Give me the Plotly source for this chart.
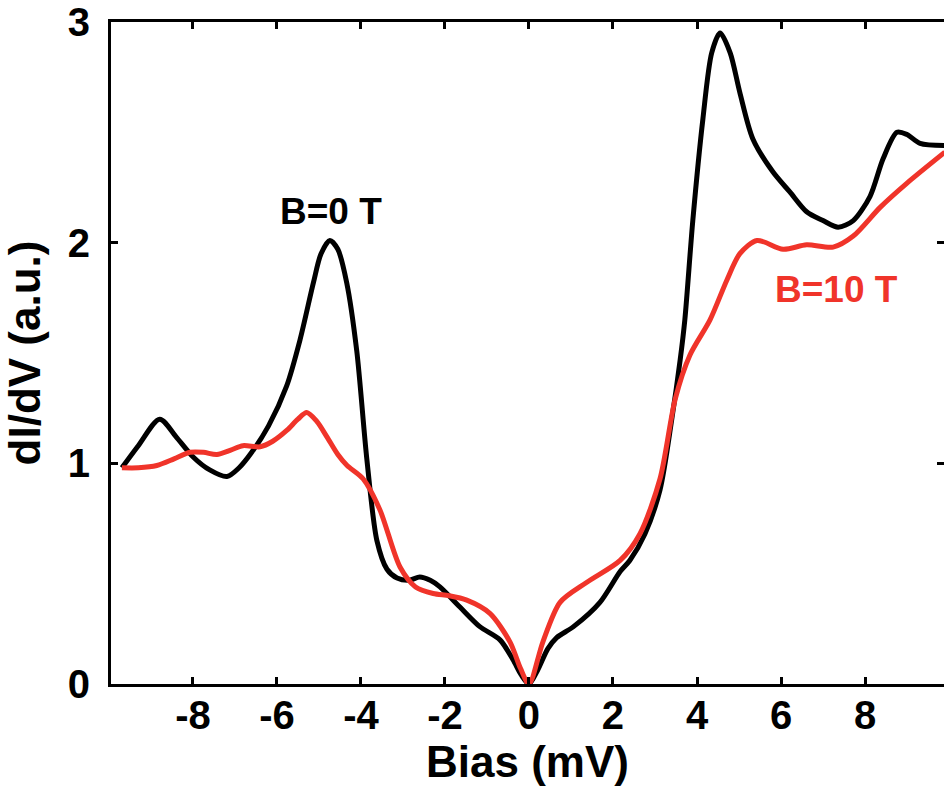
import plotly.graph_objects as go

# Tunneling spectra dI/dV vs bias at two magnetic fields
bias_b0 = [-9.69, -9.3, -8.79, -8.4, -8.0, -7.6, -7.19, -6.9, -6.6, -6.2, -5.77, -5.45,
           -5.13, -4.95, -4.74, -4.55, -4.34, -4.10, -3.86, -3.62, -3.38, -3.14, -2.85,
           -2.6, -2.35, -2.12, -1.65, -1.17, -0.69, -0.38, -0.18, 0.0, 0.2, 0.45, 0.66,
           1.06, 1.69, 2.17, 2.4, 2.76, 3.12, 3.4, 3.6, 3.71, 3.9, 4.14, 4.35, 4.55, 4.79,
           5.02, 5.33, 5.81, 6.21, 6.61, 7.0, 7.36, 7.72, 8.12, 8.43, 8.76, 9.0, 9.31, 9.9]
didv_b0 = [0.98, 1.08, 1.20, 1.12, 1.03, 0.97, 0.94, 0.98, 1.05, 1.17, 1.35, 1.56,
           1.82, 1.95, 2.01, 1.97, 1.82, 1.51, 1.02, 0.65, 0.52, 0.48, 0.47,
           0.485, 0.47, 0.44, 0.35, 0.26, 0.20, 0.11, 0.04, 0.0, 0.06, 0.16, 0.21,
           0.26, 0.37, 0.51, 0.56, 0.68, 0.88, 1.2, 1.47, 1.65, 2.10, 2.56, 2.86, 2.95, 2.86,
           2.68, 2.47, 2.32, 2.23, 2.14, 2.10, 2.07, 2.10, 2.21, 2.38, 2.50, 2.49, 2.45, 2.44]

bias_b10 = [-9.69, -9.3, -8.86, -8.45, -8.07, -7.75, -7.43, -7.1, -6.81, -6.40, -6.1, -5.76,
            -5.5, -5.29, -5.05, -4.81, -4.55, -4.33, -3.95, -3.55, -3.07, -2.7, -2.28, -1.9,
            -1.48, -0.93, -0.45, -0.2, 0.0, 0.33, 0.74, 1.37, 2.17, 2.64, 3.12, 3.48, 3.83,
            4.31, 4.71, 5.02, 5.43, 6.05, 6.61, 7.24, 7.72, 8.36, 9.0, 9.9]
didv_b10 = [0.98, 0.98, 0.99, 1.02, 1.05, 1.05, 1.04, 1.06, 1.08, 1.075, 1.10, 1.15,
            1.20, 1.23, 1.19, 1.12, 1.04, 0.99, 0.93, 0.79, 0.53, 0.44, 0.41, 0.40,
            0.38, 0.32, 0.19, 0.07, 0.0, 0.19, 0.37, 0.46, 0.56, 0.68, 0.93, 1.29, 1.49,
            1.65, 1.83, 1.95, 2.01, 1.97, 1.99, 1.98, 2.03, 2.16, 2.27, 2.41]

x_ticks = [-8, -6, -4, -2, 0, 2, 4, 6, 8]
x_tick_text = ["-8", "-6", "-4", "-2", "0", "2", "4", "6", "8"]
y_ticks = [0, 1, 2, 3]

BLACK = "#000000"
RED = "#f0342a"
FONT = "Liberation Sans, Arial, sans-serif"

fig = go.Figure()
fig.add_trace(go.Scatter(x=bias_b0, y=didv_b0, mode="lines",
                         line=dict(color=BLACK, width=5, shape="spline", smoothing=0.8),
                         showlegend=False))
fig.add_trace(go.Scatter(x=bias_b10, y=didv_b10, mode="lines",
                         line=dict(color=RED, width=5, shape="spline", smoothing=0.8),
                         showlegend=False))

# invisible trace on the right-hand axis so its inside ticks are drawn
fig.add_trace(go.Scatter(x=[None], y=[None], yaxis="y2", showlegend=False))

fig.add_annotation(x=-4.71, y=2.14, text="B=0 T", showarrow=False,
                   font=dict(family=FONT, size=37, color=BLACK, weight="bold"))
fig.add_annotation(x=7.31, y=1.79, text="B=10 T", showarrow=False,
                   font=dict(family=FONT, size=37, color=RED, weight="bold"))

fig.update_layout(
    width=944, height=794,
    margin=dict(l=111, r=0, t=22, b=110),
    plot_bgcolor="white", paper_bgcolor="white",
    font=dict(family=FONT, color="black"),
    xaxis=dict(range=[-9.95, 9.88], tickvals=x_ticks, ticktext=x_tick_text,
               ticks="inside", ticklen=7, ticklabelstandoff=-6,
               tickwidth=2.5, tickcolor="black", showline=True, linecolor="black",
               linewidth=3, mirror="ticks", showgrid=False, zeroline=False,
               tickfont=dict(family=FONT, size=40, weight="bold"),
               title=dict(text="Bias (mV)", font=dict(family=FONT, size=44, weight="bold"),
                          standoff=4)),
    yaxis=dict(range=[0, 3], tickvals=y_ticks, ticks="inside", ticklen=7,
               ticklabelstandoff=10,
               tickwidth=2.5, tickcolor="black", showline=True, linecolor="black",
               linewidth=3, mirror=False, showgrid=False, zeroline=False,
               tickfont=dict(family=FONT, size=40, weight="bold"),
               title=dict(text="dI/dV (a.u.)", font=dict(family=FONT, size=44, weight="bold"),
                          standoff=16)),
    yaxis2=dict(range=[0, 3], tickvals=y_ticks, ticks="inside", ticklen=7,
                tickwidth=2.5, tickcolor="black", showline=False, overlaying="y",
                side="right", showticklabels=False, showgrid=False, zeroline=False),
)

fig.write_html("out.html")
